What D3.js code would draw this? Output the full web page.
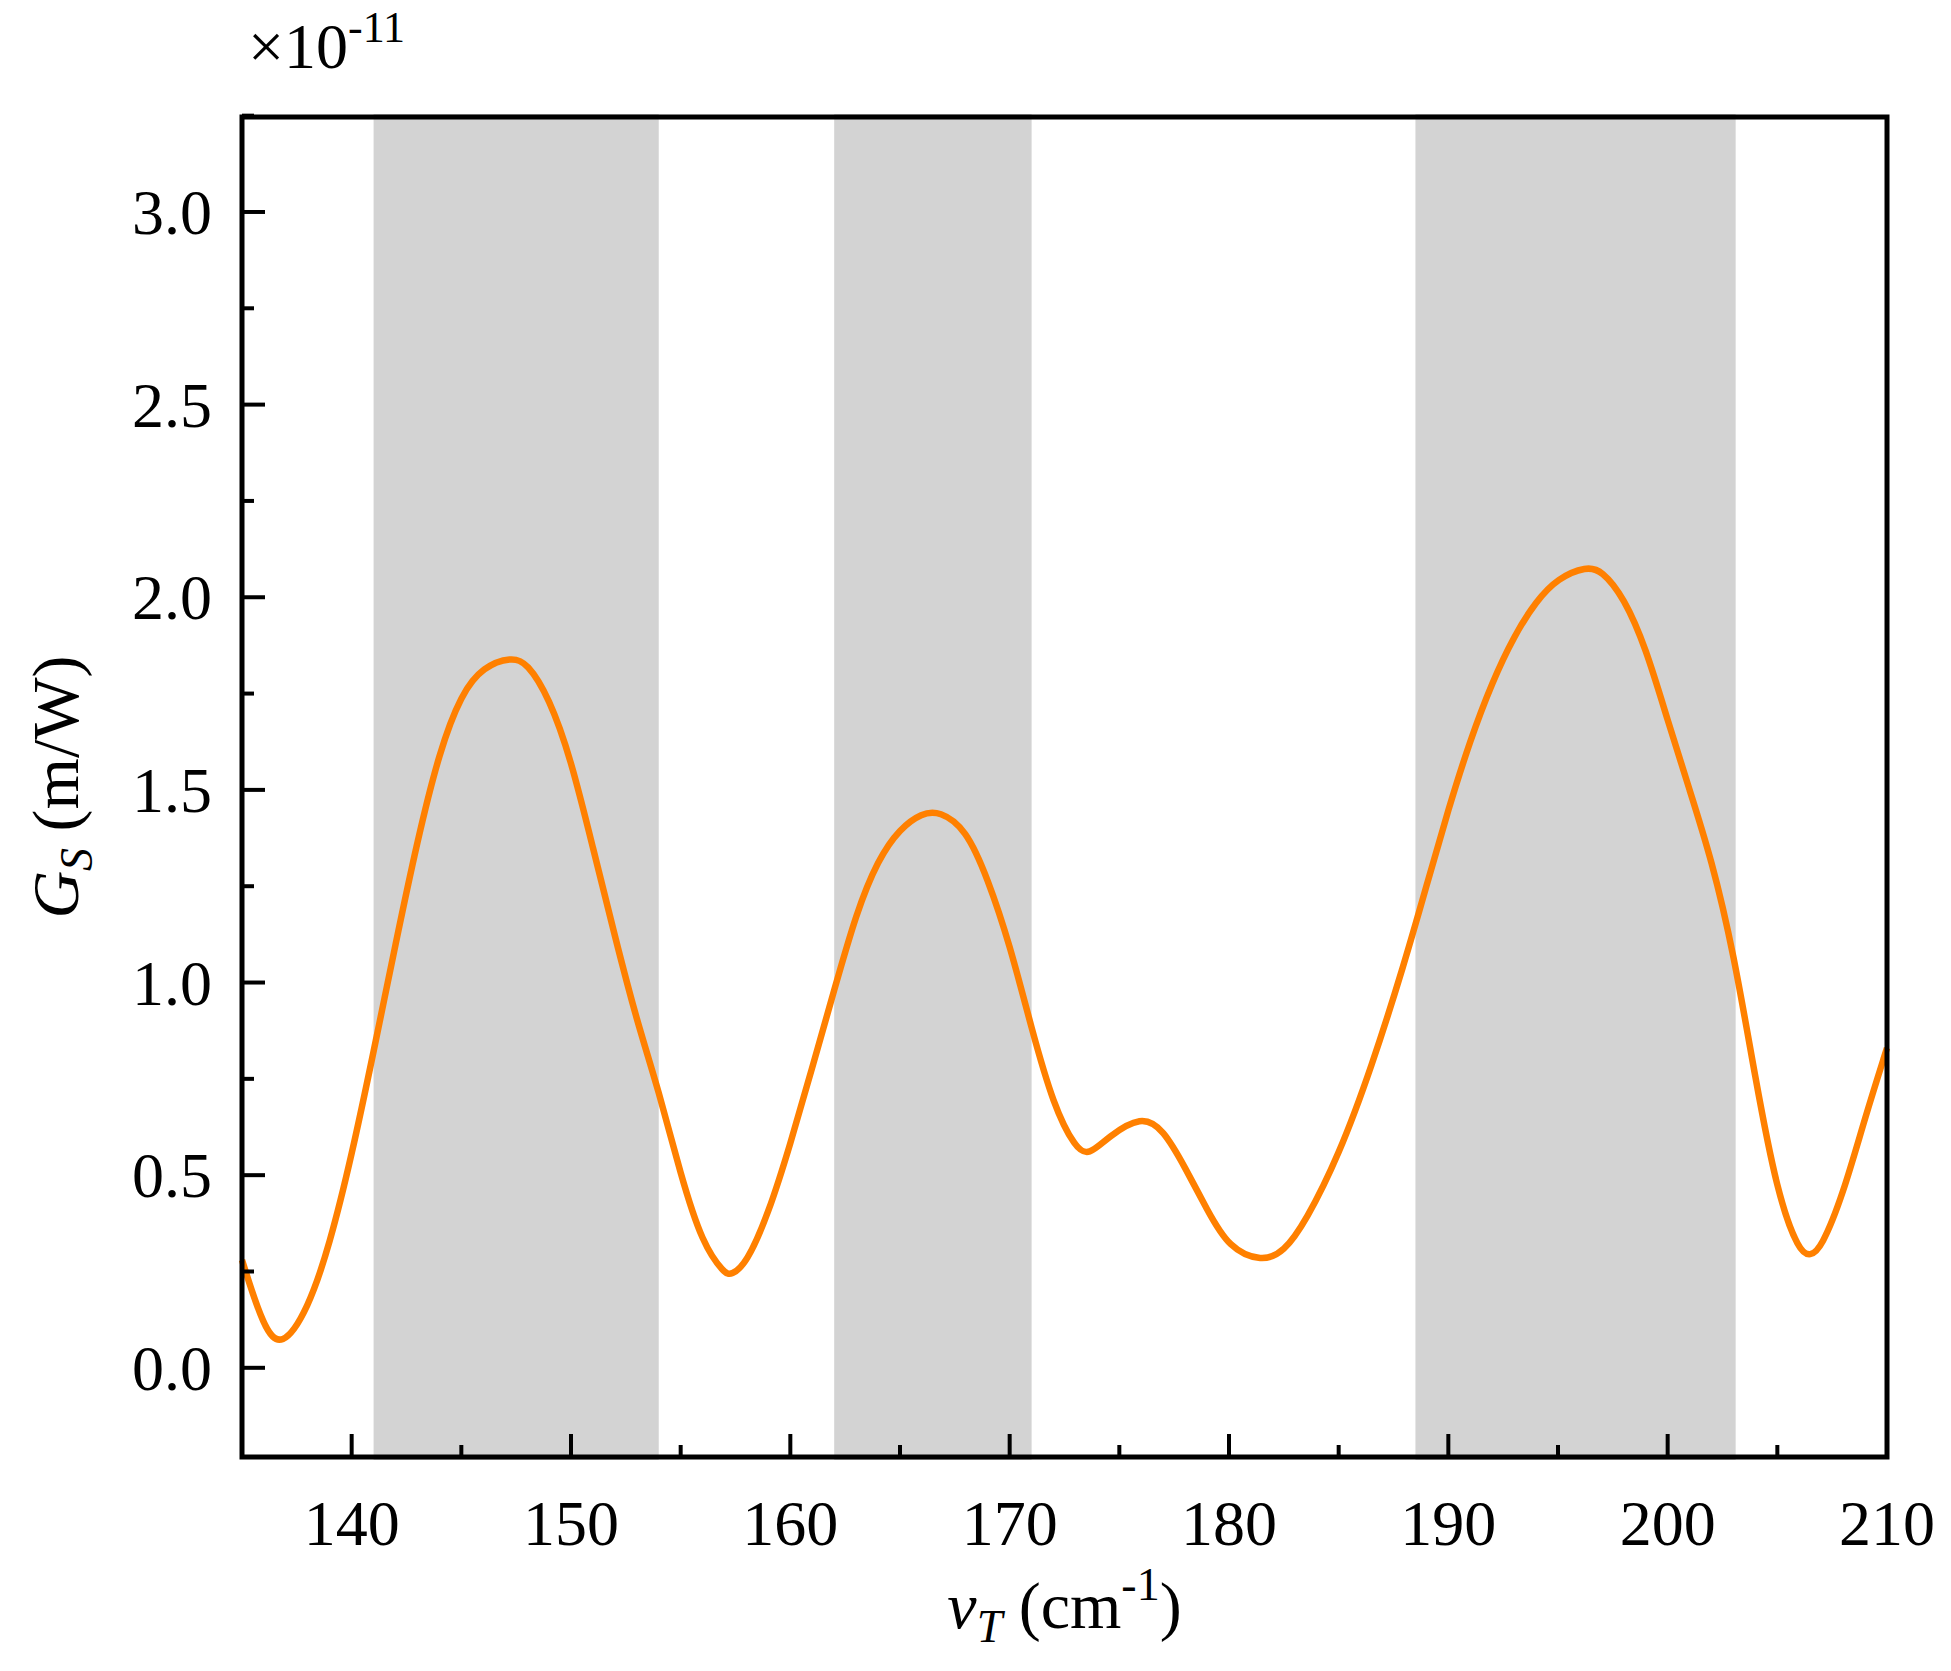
<!DOCTYPE html>
<html><head><meta charset="utf-8">
<script src="https://cdn.jsdelivr.net/npm/d3@7"></script>
<style>body{margin:0;background:#fff}text{font-family:"Liberation Serif","Times New Roman",serif}</style>
</head><body><svg id="c" width="1951" height="1671"></svg>
<script>
// data (y in units of 1e-11 m/W)
var nu = [135,136,136.8,138,139,140,141,142,143,144,145,146,147.3,148,149,150,151,152,153,154,155,156,157,157.3,158,159,160,161,162,163,164,165,166,166.8,168,169,170,171,172,173,173.6,174.5,176,177,178,179,180,181.5,182.5,183.5,185,186.5,188,189,190,191,192,193,194,195,196.3,197,198,199,200,201,202,203,204,205,206,206.5,207,208,209,210];
var gs = [0.28,0.1,0.05,0.15,0.32,0.55,0.82,1.1,1.37,1.6,1.75,1.82,1.845,1.83,1.74,1.58,1.35,1.12,0.9,0.72,0.5,0.32,0.245,0.24,0.27,0.4,0.58,0.78,0.98,1.18,1.32,1.4,1.44,1.445,1.4,1.27,1.1,0.88,0.68,0.57,0.55,0.6,0.655,0.62,0.52,0.41,0.31,0.275,0.3,0.38,0.55,0.78,1.05,1.25,1.45,1.63,1.78,1.9,1.99,2.05,2.08,2.07,2.0,1.87,1.68,1.5,1.32,1.08,0.75,0.45,0.3,0.29,0.31,0.45,0.65,0.83];
var bandStart = [141, 162, 188.5];
var bandEnd = [154, 171, 203.1];
var xTicks = [140,150,160,170,180,190,200,210];
var yTicks = [0,0.5,1,1.5,2,2.5,3];

var svg = d3.select("#c");
var L=242, R=1887, T=117, B=1457;
var x = d3.scaleLinear().domain([135,210]).range([L,R]);
var y = d3.scaleLinear().domain([-0.2315,3.2465]).range([B,T]);

svg.selectAll(".band").data(bandStart).enter().append("rect")
  .attr("x",function(d){return x(d);}).attr("y",T-3)
  .attr("width",function(d,i){return x(bandEnd[i])-x(d);}).attr("height",B-T+6)
  .attr("fill","#d3d3d3");

var line = d3.line().x(function(d,i){return x(nu[i]);}).y(function(d){return y(d);}).curve(d3.curveBasis);
svg.append("path").datum(gs).attr("d",line).attr("fill","none")
  .attr("stroke","#ff8000").attr("stroke-width",6.5).attr("stroke-linejoin","round");

// inward ticks
var xMinor = d3.range(135,211,5).filter(function(v){return xTicks.indexOf(v)<0;});
var yMinor = d3.range(-0.25,3.26,0.25).filter(function(v){return v%0.5!==0 && v>-0.23;});
var ax = svg.append("g").attr("stroke","#000").attr("stroke-width",4);
xTicks.forEach(function(v){ax.append("line").attr("x1",x(v)).attr("x2",x(v)).attr("y1",B).attr("y2",B-23);});
xMinor.forEach(function(v){ax.append("line").attr("x1",x(v)).attr("x2",x(v)).attr("y1",B).attr("y2",B-12);});
yTicks.forEach(function(v){ax.append("line").attr("x1",L).attr("x2",L+23).attr("y1",y(v)).attr("y2",y(v));});
yMinor.forEach(function(v){ax.append("line").attr("x1",L).attr("x2",L+12).attr("y1",y(v)).attr("y2",y(v));});
svg.append("rect").attr("x",L).attr("y",T).attr("width",R-L).attr("height",B-T)
  .attr("fill","none").attr("stroke","#000").attr("stroke-width",5);

svg.selectAll(".xl").data(xTicks).enter().append("text")
  .attr("x",function(d){return x(d);}).attr("y",B+88).attr("text-anchor","middle")
  .attr("font-size",64).text(function(d){return d;});
svg.selectAll(".yl").data(yTicks).enter().append("text")
  .attr("x",L-30).attr("y",function(d){return y(d)+22;}).attr("text-anchor","end")
  .attr("font-size",64).text(function(d){return d.toFixed(1);});

svg.append("text").attr("x",248).attr("y",68).attr("font-size",64)
  .html('×10<tspan dy="-26" font-size="44">-11</tspan>');

var xt = svg.append("text").attr("x",(L+R)/2).attr("y",1628).attr("text-anchor","middle").attr("font-size",66);
xt.html('<tspan font-style="italic">ν</tspan><tspan font-style="italic" font-size="46" dy="14">T</tspan><tspan dy="-14"> (cm</tspan><tspan font-size="46" dy="-28">-1</tspan><tspan dy="28">)</tspan>');

var yt = svg.append("text").attr("transform","translate(78,"+((T+B)/2)+") rotate(-90)")
  .attr("text-anchor","middle").attr("font-size",66);
yt.html('<tspan font-style="italic">G</tspan><tspan font-style="italic" font-size="46" dy="14">S</tspan><tspan dy="-14"> (m/W)</tspan>');
</script></body></html>
